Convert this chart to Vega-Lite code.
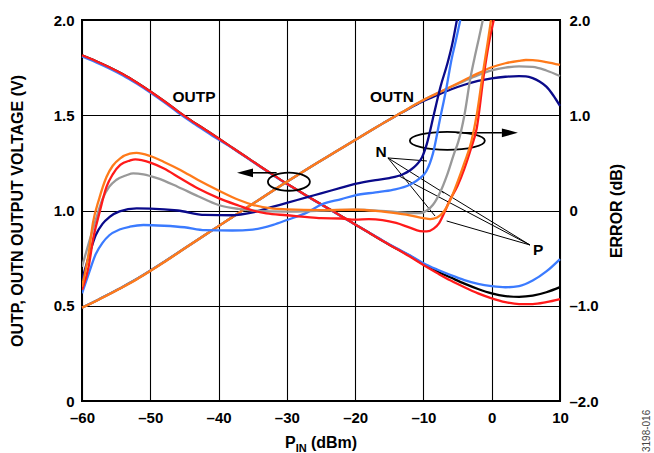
{
  "$schema": "https://vega.github.io/schema/vega-lite/v6.json",
  "width": 478,
  "height": 381,
  "autosize": {"type": "none"},
  "padding": {"left": 82, "top": 20, "right": 94, "bottom": 52},
  "config": {
    "font": "Liberation Sans",
    "view": {"stroke": "#000", "strokeWidth": 2},
    "axis": {
      "labelFont": "Liberation Sans", "labelFontWeight": "bold", "labelFontSize": 15, "labelColor": "#000",
      "titleFont": "Liberation Sans", "titleFontWeight": "bold", "titleFontSize": 16, "titleColor": "#000",
      "ticks": false, "domain": false, "gridColor": "#000", "gridWidth": 1.1, "gridOpacity": 1,
      "labelFlush": false, "labelOverlap": false
    }
  },
  "datasets": {
    "volt": [
      {"s":"OUTP a","x":-60,"v":1.815},{"s":"OUTP a","x":-58,"v":1.785},{"s":"OUTP a","x":-56,"v":1.752},{"s":"OUTP a","x":-54,"v":1.715},{"s":"OUTP a","x":-52,"v":1.672},{"s":"OUTP a","x":-50,"v":1.625},{"s":"OUTP a","x":-48,"v":1.575},{"s":"OUTP a","x":-46,"v":1.522},{"s":"OUTP a","x":-44,"v":1.472},{"s":"OUTP a","x":-42,"v":1.425},{"s":"OUTP a","x":-40,"v":1.378},{"s":"OUTP a","x":-38,"v":1.33},{"s":"OUTP a","x":-36,"v":1.282},{"s":"OUTP a","x":-34,"v":1.234},{"s":"OUTP a","x":-32,"v":1.187},{"s":"OUTP a","x":-30,"v":1.14},{"s":"OUTP a","x":-28,"v":1.097},{"s":"OUTP a","x":-26,"v":1.054},{"s":"OUTP a","x":-24,"v":1.012},{"s":"OUTP a","x":-22,"v":0.97},{"s":"OUTP a","x":-20,"v":0.927},{"s":"OUTP a","x":-18,"v":0.884},{"s":"OUTP a","x":-16,"v":0.841},{"s":"OUTP a","x":-14,"v":0.8},{"s":"OUTP a","x":-12,"v":0.762},{"s":"OUTP a","x":-10,"v":0.718},{"s":"OUTP a","x":-8,"v":0.68},{"s":"OUTP a","x":-6,"v":0.648},{"s":"OUTP a","x":-4,"v":0.616},{"s":"OUTP a","x":-2,"v":0.588},{"s":"OUTP a","x":0,"v":0.565},{"s":"OUTP a","x":2,"v":0.551},{"s":"OUTP a","x":4,"v":0.547},{"s":"OUTP a","x":6,"v":0.553},{"s":"OUTP a","x":8,"v":0.571},{"s":"OUTP a","x":10,"v":0.598},

      {"s":"OUTP b","x":-60,"v":1.809},{"s":"OUTP b","x":-58,"v":1.779},{"s":"OUTP b","x":-56,"v":1.746},{"s":"OUTP b","x":-54,"v":1.709},{"s":"OUTP b","x":-52,"v":1.666},{"s":"OUTP b","x":-50,"v":1.619},{"s":"OUTP b","x":-48,"v":1.569},{"s":"OUTP b","x":-46,"v":1.516},{"s":"OUTP b","x":-44,"v":1.466},{"s":"OUTP b","x":-42,"v":1.419},{"s":"OUTP b","x":-40,"v":1.372},{"s":"OUTP b","x":-38,"v":1.328},{"s":"OUTP b","x":-36,"v":1.28},{"s":"OUTP b","x":-34,"v":1.232},{"s":"OUTP b","x":-32,"v":1.185},{"s":"OUTP b","x":-30,"v":1.139},{"s":"OUTP b","x":-28,"v":1.096},{"s":"OUTP b","x":-26,"v":1.053},{"s":"OUTP b","x":-24,"v":1.011},{"s":"OUTP b","x":-22,"v":0.969},{"s":"OUTP b","x":-20,"v":0.927},{"s":"OUTP b","x":-18,"v":0.885},{"s":"OUTP b","x":-16,"v":0.843},{"s":"OUTP b","x":-14,"v":0.803},{"s":"OUTP b","x":-12,"v":0.765},{"s":"OUTP b","x":-10,"v":0.723},{"s":"OUTP b","x":-8,"v":0.69},{"s":"OUTP b","x":-6,"v":0.661},{"s":"OUTP b","x":-4,"v":0.635},{"s":"OUTP b","x":-2,"v":0.615},{"s":"OUTP b","x":0,"v":0.603},{"s":"OUTP b","x":2,"v":0.597},{"s":"OUTP b","x":4,"v":0.603},{"s":"OUTP b","x":6,"v":0.632},{"s":"OUTP b","x":8,"v":0.68},{"s":"OUTP b","x":10,"v":0.745},

      {"s":"OUTP c","x":-60,"v":1.815},{"s":"OUTP c","x":-58,"v":1.785},{"s":"OUTP c","x":-56,"v":1.752},{"s":"OUTP c","x":-54,"v":1.715},{"s":"OUTP c","x":-52,"v":1.672},{"s":"OUTP c","x":-50,"v":1.625},{"s":"OUTP c","x":-48,"v":1.575},{"s":"OUTP c","x":-46,"v":1.522},{"s":"OUTP c","x":-44,"v":1.472},{"s":"OUTP c","x":-42,"v":1.425},{"s":"OUTP c","x":-40,"v":1.378},{"s":"OUTP c","x":-38,"v":1.33},{"s":"OUTP c","x":-36,"v":1.282},{"s":"OUTP c","x":-34,"v":1.234},{"s":"OUTP c","x":-32,"v":1.187},{"s":"OUTP c","x":-30,"v":1.14},{"s":"OUTP c","x":-28,"v":1.097},{"s":"OUTP c","x":-26,"v":1.054},{"s":"OUTP c","x":-24,"v":1.012},{"s":"OUTP c","x":-22,"v":0.97},{"s":"OUTP c","x":-20,"v":0.927},{"s":"OUTP c","x":-18,"v":0.884},{"s":"OUTP c","x":-16,"v":0.841},{"s":"OUTP c","x":-14,"v":0.8},{"s":"OUTP c","x":-12,"v":0.758},{"s":"OUTP c","x":-10,"v":0.714},{"s":"OUTP c","x":-8,"v":0.672},{"s":"OUTP c","x":-6,"v":0.632},{"s":"OUTP c","x":-4,"v":0.597},{"s":"OUTP c","x":-2,"v":0.565},{"s":"OUTP c","x":0,"v":0.539},{"s":"OUTP c","x":2,"v":0.519},{"s":"OUTP c","x":4,"v":0.509},{"s":"OUTP c","x":6,"v":0.509},{"s":"OUTP c","x":8,"v":0.519},{"s":"OUTP c","x":10,"v":0.535},

      {"s":"OUTN a","x":-60,"v":0.49},{"s":"OUTN a","x":-58,"v":0.525},{"s":"OUTN a","x":-56,"v":0.562},{"s":"OUTN a","x":-54,"v":0.6},{"s":"OUTN a","x":-52,"v":0.64},{"s":"OUTN a","x":-50,"v":0.684},{"s":"OUTN a","x":-48,"v":0.73},{"s":"OUTN a","x":-46,"v":0.777},{"s":"OUTN a","x":-44,"v":0.824},{"s":"OUTN a","x":-42,"v":0.871},{"s":"OUTN a","x":-40,"v":0.918},{"s":"OUTN a","x":-38,"v":0.965},{"s":"OUTN a","x":-36,"v":1.012},{"s":"OUTN a","x":-34,"v":1.058},{"s":"OUTN a","x":-32,"v":1.105},{"s":"OUTN a","x":-30,"v":1.151},{"s":"OUTN a","x":-28,"v":1.196},{"s":"OUTN a","x":-26,"v":1.24},{"s":"OUTN a","x":-24,"v":1.284},{"s":"OUTN a","x":-22,"v":1.327},{"s":"OUTN a","x":-20,"v":1.37},{"s":"OUTN a","x":-18,"v":1.413},{"s":"OUTN a","x":-16,"v":1.456},{"s":"OUTN a","x":-14,"v":1.498},{"s":"OUTN a","x":-12,"v":1.537},{"s":"OUTN a","x":-10,"v":1.575},{"s":"OUTN a","x":-8,"v":1.605},{"s":"OUTN a","x":-6,"v":1.635},{"s":"OUTN a","x":-4,"v":1.66},{"s":"OUTN a","x":-2,"v":1.68},{"s":"OUTN a","x":0,"v":1.694},{"s":"OUTN a","x":2,"v":1.702},{"s":"OUTN a","x":4,"v":1.705},{"s":"OUTN a","x":5,"v":1.704},{"s":"OUTN a","x":6,"v":1.695},{"s":"OUTN a","x":7,"v":1.677},{"s":"OUTN a","x":8,"v":1.65},{"s":"OUTN a","x":9,"v":1.605},{"s":"OUTN a","x":10,"v":1.549},

      {"s":"OUTN b","x":-60,"v":0.49},{"s":"OUTN b","x":-58,"v":0.525},{"s":"OUTN b","x":-56,"v":0.562},{"s":"OUTN b","x":-54,"v":0.6},{"s":"OUTN b","x":-52,"v":0.64},{"s":"OUTN b","x":-50,"v":0.684},{"s":"OUTN b","x":-48,"v":0.73},{"s":"OUTN b","x":-46,"v":0.777},{"s":"OUTN b","x":-44,"v":0.824},{"s":"OUTN b","x":-42,"v":0.871},{"s":"OUTN b","x":-40,"v":0.918},{"s":"OUTN b","x":-38,"v":0.965},{"s":"OUTN b","x":-36,"v":1.012},{"s":"OUTN b","x":-34,"v":1.058},{"s":"OUTN b","x":-32,"v":1.105},{"s":"OUTN b","x":-30,"v":1.151},{"s":"OUTN b","x":-28,"v":1.196},{"s":"OUTN b","x":-26,"v":1.24},{"s":"OUTN b","x":-24,"v":1.284},{"s":"OUTN b","x":-22,"v":1.327},{"s":"OUTN b","x":-20,"v":1.37},{"s":"OUTN b","x":-18,"v":1.413},{"s":"OUTN b","x":-16,"v":1.456},{"s":"OUTN b","x":-14,"v":1.498},{"s":"OUTN b","x":-12,"v":1.54},{"s":"OUTN b","x":-10,"v":1.58},{"s":"OUTN b","x":-8,"v":1.615},{"s":"OUTN b","x":-6,"v":1.648},{"s":"OUTN b","x":-4,"v":1.68},{"s":"OUTN b","x":-2,"v":1.71},{"s":"OUTN b","x":0,"v":1.735},{"s":"OUTN b","x":2,"v":1.75},{"s":"OUTN b","x":4,"v":1.757},{"s":"OUTN b","x":6,"v":1.754},{"s":"OUTN b","x":8,"v":1.735},{"s":"OUTN b","x":10,"v":1.706},

      {"s":"OUTN c","x":-60,"v":0.49},{"s":"OUTN c","x":-58,"v":0.524},{"s":"OUTN c","x":-56,"v":0.56},{"s":"OUTN c","x":-54,"v":0.598},{"s":"OUTN c","x":-52,"v":0.638},{"s":"OUTN c","x":-50,"v":0.682},{"s":"OUTN c","x":-48,"v":0.728},{"s":"OUTN c","x":-46,"v":0.776},{"s":"OUTN c","x":-44,"v":0.824},{"s":"OUTN c","x":-42,"v":0.871},{"s":"OUTN c","x":-40,"v":0.918},{"s":"OUTN c","x":-38,"v":0.965},{"s":"OUTN c","x":-36,"v":1.012},{"s":"OUTN c","x":-34,"v":1.058},{"s":"OUTN c","x":-32,"v":1.105},{"s":"OUTN c","x":-30,"v":1.151},{"s":"OUTN c","x":-28,"v":1.196},{"s":"OUTN c","x":-26,"v":1.24},{"s":"OUTN c","x":-24,"v":1.284},{"s":"OUTN c","x":-22,"v":1.327},{"s":"OUTN c","x":-20,"v":1.37},{"s":"OUTN c","x":-18,"v":1.413},{"s":"OUTN c","x":-16,"v":1.456},{"s":"OUTN c","x":-14,"v":1.498},{"s":"OUTN c","x":-12,"v":1.54},{"s":"OUTN c","x":-10,"v":1.58},{"s":"OUTN c","x":-8,"v":1.615},{"s":"OUTN c","x":-6,"v":1.65},{"s":"OUTN c","x":-4,"v":1.685},{"s":"OUTN c","x":-2,"v":1.72},{"s":"OUTN c","x":0,"v":1.752},{"s":"OUTN c","x":2,"v":1.773},{"s":"OUTN c","x":4,"v":1.786},{"s":"OUTN c","x":5,"v":1.79},{"s":"OUTN c","x":6,"v":1.789},{"s":"OUTN c","x":8,"v":1.779},{"s":"OUTN c","x":10,"v":1.764}
    ],
    "err": [
      {"s":"err a","x":-60,"e":-0.73},{"s":"err a","x":-59,"e":-0.48},{"s":"err a","x":-58,"e":-0.26},{"s":"err a","x":-57,"e":-0.14},{"s":"err a","x":-56,"e":-0.07},{"s":"err a","x":-54.5,"e":-0.01},{"s":"err a","x":-52,"e":0.022},{"s":"err a","x":-50,"e":0.02},{"s":"err a","x":-46,"e":0.0},{"s":"err a","x":-42,"e":-0.046},{"s":"err a","x":-38,"e":-0.05},{"s":"err a","x":-35,"e":-0.02},{"s":"err a","x":-32,"e":0.04},{"s":"err a","x":-30,"e":0.08},{"s":"err a","x":-27,"e":0.14},{"s":"err a","x":-25,"e":0.18},{"s":"err a","x":-22,"e":0.24},{"s":"err a","x":-20,"e":0.28},{"s":"err a","x":-17,"e":0.32},{"s":"err a","x":-15,"e":0.34},{"s":"err a","x":-13,"e":0.38},{"s":"err a","x":-12,"e":0.42},{"s":"err a","x":-11,"e":0.48},{"s":"err a","x":-10.2,"e":0.56},{"s":"err a","x":-9.5,"e":0.7},{"s":"err a","x":-8.5,"e":1.0},{"s":"err a","x":-7.5,"e":1.3},{"s":"err a","x":-6.5,"e":1.54},{"s":"err a","x":-5.8,"e":1.74},{"s":"err a","x":-5.1,"e":2.0},

      {"s":"err b","x":-60,"e":-0.87},{"s":"err b","x":-59,"e":-0.66},{"s":"err b","x":-58,"e":-0.46},{"s":"err b","x":-57,"e":-0.34},{"s":"err b","x":-56,"e":-0.26},{"s":"err b","x":-54.5,"e":-0.2},{"s":"err b","x":-53,"e":-0.17},{"s":"err b","x":-51,"e":-0.152},{"s":"err b","x":-48,"e":-0.16},{"s":"err b","x":-45,"e":-0.176},{"s":"err b","x":-42,"e":-0.206},{"s":"err b","x":-38,"e":-0.21},{"s":"err b","x":-35,"e":-0.2},{"s":"err b","x":-32,"e":-0.15},{"s":"err b","x":-30,"e":-0.1},{"s":"err b","x":-27,"e":-0.02},{"s":"err b","x":-25,"e":0.06},{"s":"err b","x":-22,"e":0.12},{"s":"err b","x":-20,"e":0.16},{"s":"err b","x":-17,"e":0.19},{"s":"err b","x":-14.5,"e":0.216},{"s":"err b","x":-12,"e":0.27},{"s":"err b","x":-10.5,"e":0.34},{"s":"err b","x":-9.6,"e":0.41},{"s":"err b","x":-8.6,"e":0.6},{"s":"err b","x":-7.6,"e":0.95},{"s":"err b","x":-6.6,"e":1.3},{"s":"err b","x":-5.9,"e":1.58},{"s":"err b","x":-5.2,"e":1.8},{"s":"err b","x":-4.6,"e":2.0},

      {"s":"err c","x":-60,"e":-0.59},{"s":"err c","x":-59,"e":-0.34},{"s":"err c","x":-58,"e":-0.1},{"s":"err c","x":-57,"e":0.12},{"s":"err c","x":-56,"e":0.25},{"s":"err c","x":-55,"e":0.32},{"s":"err c","x":-53.5,"e":0.37},{"s":"err c","x":-52.5,"e":0.39},{"s":"err c","x":-51,"e":0.38},{"s":"err c","x":-49,"e":0.34},{"s":"err c","x":-46,"e":0.25},{"s":"err c","x":-43,"e":0.15},{"s":"err c","x":-40,"e":0.058},{"s":"err c","x":-37,"e":0.016},{"s":"err c","x":-35,"e":0.0},{"s":"err c","x":-30,"e":-0.012},{"s":"err c","x":-25,"e":-0.002},{"s":"err c","x":-20,"e":0.01},{"s":"err c","x":-15,"e":-0.01},{"s":"err c","x":-12,"e":-0.026},{"s":"err c","x":-10.5,"e":-0.028},{"s":"err c","x":-9.5,"e":0.0},{"s":"err c","x":-8.6,"e":0.06},{"s":"err c","x":-7.5,"e":0.2},{"s":"err c","x":-6.5,"e":0.38},{"s":"err c","x":-5.5,"e":0.6},{"s":"err c","x":-4.9,"e":0.72},{"s":"err c","x":-4,"e":1.0},{"s":"err c","x":-3.1,"e":1.4},{"s":"err c","x":-2.4,"e":1.64},{"s":"err c","x":-1.9,"e":1.8},{"s":"err c","x":-1.3,"e":2.0},

      {"s":"err d","x":-60,"e":-0.834},{"s":"err d","x":-59,"e":-0.58},{"s":"err d","x":-58.4,"e":-0.31},{"s":"err d","x":-57.5,"e":-0.04},{"s":"err d","x":-56.4,"e":0.25},{"s":"err d","x":-55.5,"e":0.38},{"s":"err d","x":-54.4,"e":0.478},{"s":"err d","x":-53,"e":0.524},{"s":"err d","x":-52.2,"e":0.536},{"s":"err d","x":-50,"e":0.502},{"s":"err d","x":-48,"e":0.44},{"s":"err d","x":-45.6,"e":0.338},{"s":"err d","x":-43,"e":0.23},{"s":"err d","x":-40,"e":0.13},{"s":"err d","x":-37,"e":0.05},{"s":"err d","x":-35,"e":0.0},{"s":"err d","x":-33,"e":-0.03},{"s":"err d","x":-30,"e":-0.05},{"s":"err d","x":-27,"e":-0.07},{"s":"err d","x":-25,"e":-0.08},{"s":"err d","x":-22,"e":-0.084},{"s":"err d","x":-20,"e":-0.096},{"s":"err d","x":-18,"e":-0.09},{"s":"err d","x":-16,"e":-0.1},{"s":"err d","x":-14,"e":-0.13},{"s":"err d","x":-12,"e":-0.18},{"s":"err d","x":-10.5,"e":-0.216},{"s":"err d","x":-9.5,"e":-0.22},{"s":"err d","x":-8.5,"e":-0.19},{"s":"err d","x":-7.7,"e":-0.132},{"s":"err d","x":-6.8,"e":0.0},{"s":"err d","x":-6.2,"e":0.1},{"s":"err d","x":-5,"e":0.26},{"s":"err d","x":-4,"e":0.44},{"s":"err d","x":-3,"e":0.66},{"s":"err d","x":-2.2,"e":0.86},{"s":"err d","x":-1.2,"e":1.4},{"s":"err d","x":-0.4,"e":1.76},{"s":"err d","x":0.3,"e":2.0},

      {"s":"err e","x":-60,"e":-0.8},{"s":"err e","x":-59,"e":-0.44},{"s":"err e","x":-58.4,"e":-0.13},{"s":"err e","x":-57.5,"e":0.12},{"s":"err e","x":-56.4,"e":0.354},{"s":"err e","x":-55.5,"e":0.47},{"s":"err e","x":-54.4,"e":0.548},{"s":"err e","x":-53,"e":0.596},{"s":"err e","x":-52,"e":0.606},{"s":"err e","x":-50,"e":0.572},{"s":"err e","x":-48,"e":0.51},{"s":"err e","x":-45.6,"e":0.426},{"s":"err e","x":-43,"e":0.32},{"s":"err e","x":-40,"e":0.21},{"s":"err e","x":-37,"e":0.11},{"s":"err e","x":-35,"e":0.06},{"s":"err e","x":-32,"e":0.02},{"s":"err e","x":-30,"e":0.012},{"s":"err e","x":-25,"e":0.004},{"s":"err e","x":-20,"e":0.008},{"s":"err e","x":-17,"e":-0.004},{"s":"err e","x":-15,"e":-0.02},{"s":"err e","x":-12,"e":-0.05},{"s":"err e","x":-10,"e":-0.08},{"s":"err e","x":-9,"e":-0.09},{"s":"err e","x":-8,"e":-0.074},{"s":"err e","x":-7,"e":-0.01},{"s":"err e","x":-6,"e":0.12},{"s":"err e","x":-5,"e":0.3},{"s":"err e","x":-4,"e":0.5},{"s":"err e","x":-3,"e":0.72},{"s":"err e","x":-2.2,"e":1.0},{"s":"err e","x":-1.3,"e":1.44},{"s":"err e","x":-0.6,"e":1.76},{"s":"err e","x":-0.1,"e":2.0}
    ],
    "leaders": [
      {"x":-15.2,"v":1.276,"x2":-9.5,"v2":1.26},
      {"x":-15.2,"v":1.276,"x2":-7.0,"v2":1.092},
      {"x":-15.2,"v":1.276,"x2":-8.3,"v2":0.971},
      {"x":5.6,"v":0.819,"x2":-13.5,"v2":1.18},
      {"x":5.6,"v":0.819,"x2":-7.6,"v2":1.108},
      {"x":5.6,"v":0.819,"x2":-6.6,"v2":0.945}
    ],
    "shafts": [
      {"x":-31.5,"v":1.198,"x2":-34.97,"v2":1.198},
      {"x":-5.14,"v":1.408,"x2":1.49,"v2":1.408}
    ],
    "headLeft": [{"x":-36.13,"v":1.198}],
    "headRight": [{"x":2.66,"v":1.408}],
    "ellipseSmall": [{"x":-29.7,"v":1.151}],
    "ellipseWide": [{"x":-6.5,"v":1.366}],
    "notes": [
      {"t":"OUTP","x":-43.6,"v":1.596},
      {"t":"OUTN","x":-14.6,"v":1.596},
      {"t":"N","x":-16.2,"v":1.307},
      {"t":"P","x":6.8,"v":0.793}
    ],
    "xtitle": [
      {"t":"P","x":-30.28,"v":-0.247},
      {"t":"(dBm)","x":-26.47,"v":-0.247}
    ],
    "xsub": [{"t":"IN","x":-28.7,"v":-0.268}],
    "figid": [{"t":"3198-016","x":22.68,"v":-0.157}]
  },
  "layer": [
    {
      "layer": [
        {
          "data": {"name": "volt"},
          "mark": {"type": "line", "strokeWidth": 2.3, "interpolate": "monotone"},
          "encoding": {
            "x": {"field": "x", "type": "quantitative", "scale": {"domain": [-60, 10], "nice": false, "zero": false},
                  "axis": {"values": [-60,-50,-40,-30,-20,-10,0,10], "grid": true, "title": null, "labelPadding": 9,
                           "labelExpr": "datum.value < 0 ? '–' + format(-datum.value, 'd') : format(datum.value, 'd')"}},
            "y": {"field": "v", "type": "quantitative", "scale": {"domain": [0, 2], "nice": false, "zero": false},
                  "axis": {"orient": "left", "values": [0, 0.5, 1, 1.5, 2], "grid": true, "title": "OUTP, OUTN OUTPUT VOLTAGE (V)",
                           "labelPadding": 8, "titlePadding": 28,
                           "labelExpr": "datum.value == 0 ? '0' : format(datum.value, '.1f')"}},
            "color": {"field": "s", "type": "nominal", "legend": null,
                      "scale": {"domain": ["OUTP a","OUTP b","OUTP c","OUTN a","OUTN b","OUTN c"],
                                "range": ["#000000","#3b7bff","#ff1a1a","#0a0a8a","#999999","#ff7a1a"]}}
          }
        },
        {
          "data": {"name": "leaders"},
          "mark": {"type": "rule", "color": "#000", "strokeWidth": 1},
          "encoding": {
            "x": {"field": "x", "type": "quantitative", "scale": {"domain": [-60, 10], "nice": false, "zero": false}, "title": null},
            "x2": {"field": "x2"},
            "y": {"field": "v", "type": "quantitative", "scale": {"domain": [0, 2], "nice": false, "zero": false}, "title": "OUTP, OUTN OUTPUT VOLTAGE (V)"},
            "y2": {"field": "v2"}
          }
        },
        {
          "data": {"name": "shafts"},
          "mark": {"type": "rule", "color": "#000", "strokeWidth": 1.6},
          "encoding": {
            "x": {"field": "x", "type": "quantitative", "scale": {"domain": [-60, 10], "nice": false, "zero": false}, "title": null},
            "x2": {"field": "x2"},
            "y": {"field": "v", "type": "quantitative", "scale": {"domain": [0, 2], "nice": false, "zero": false}, "title": "OUTP, OUTN OUTPUT VOLTAGE (V)"},
            "y2": {"field": "v2"}
          }
        },
        {
          "data": {"name": "headLeft"},
          "mark": {"type": "point", "shape": "M-1,0 L1,-0.55 L1,0.55 Z", "size": 256, "filled": true, "color": "#000", "opacity": 1},
          "encoding": {
            "x": {"field": "x", "type": "quantitative", "scale": {"domain": [-60, 10], "nice": false, "zero": false}, "title": null},
            "y": {"field": "v", "type": "quantitative", "scale": {"domain": [0, 2], "nice": false, "zero": false}, "title": "OUTP, OUTN OUTPUT VOLTAGE (V)"}
          }
        },
        {
          "data": {"name": "headRight"},
          "mark": {"type": "point", "shape": "M1,0 L-1,-0.55 L-1,0.55 Z", "size": 256, "filled": true, "color": "#000", "opacity": 1},
          "encoding": {
            "x": {"field": "x", "type": "quantitative", "scale": {"domain": [-60, 10], "nice": false, "zero": false}, "title": null},
            "y": {"field": "v", "type": "quantitative", "scale": {"domain": [0, 2], "nice": false, "zero": false}, "title": "OUTP, OUTN OUTPUT VOLTAGE (V)"}
          }
        },
        {
          "data": {"name": "ellipseSmall"},
          "mark": {"type": "point", "shape": "M1,0 C1,0.2375 0.5523,0.43 0,0.43 C-0.5523,0.43 -1,0.2375 -1,0 C-1,-0.2375 -0.5523,-0.43 0,-0.43 C0.5523,-0.43 1,-0.2375 1,0 Z", "size": 1764, "filled": false, "color": "#000", "strokeWidth": 1.8, "opacity": 1},
          "encoding": {
            "x": {"field": "x", "type": "quantitative", "scale": {"domain": [-60, 10], "nice": false, "zero": false}, "title": null},
            "y": {"field": "v", "type": "quantitative", "scale": {"domain": [0, 2], "nice": false, "zero": false}, "title": "OUTP, OUTN OUTPUT VOLTAGE (V)"}
          }
        },
        {
          "data": {"name": "ellipseWide"},
          "mark": {"type": "point", "shape": "M1,0 C1,0.1326 0.5523,0.24 0,0.24 C-0.5523,0.24 -1,0.1326 -1,0 C-1,-0.1326 -0.5523,-0.24 0,-0.24 C0.5523,-0.24 1,-0.1326 1,0 Z", "size": 5625, "filled": false, "color": "#000", "strokeWidth": 1.8, "opacity": 1},
          "encoding": {
            "x": {"field": "x", "type": "quantitative", "scale": {"domain": [-60, 10], "nice": false, "zero": false}, "title": null},
            "y": {"field": "v", "type": "quantitative", "scale": {"domain": [0, 2], "nice": false, "zero": false}, "title": "OUTP, OUTN OUTPUT VOLTAGE (V)"}
          }
        },
        {
          "data": {"name": "notes"},
          "mark": {"type": "text", "font": "Liberation Sans", "fontWeight": "bold", "fontSize": 15.5, "color": "#000", "align": "center", "baseline": "middle"},
          "encoding": {
            "x": {"field": "x", "type": "quantitative", "scale": {"domain": [-60, 10], "nice": false, "zero": false}, "title": null},
            "y": {"field": "v", "type": "quantitative", "scale": {"domain": [0, 2], "nice": false, "zero": false}, "title": "OUTP, OUTN OUTPUT VOLTAGE (V)"},
            "text": {"field": "t"}
          }
        },
        {
          "data": {"name": "xtitle"},
          "mark": {"type": "text", "font": "Liberation Sans", "fontWeight": "bold", "fontSize": 16, "color": "#000", "align": "left", "baseline": "alphabetic"},
          "encoding": {
            "x": {"field": "x", "type": "quantitative", "scale": {"domain": [-60, 10], "nice": false, "zero": false}, "title": null},
            "y": {"field": "v", "type": "quantitative", "scale": {"domain": [0, 2], "nice": false, "zero": false}, "title": "OUTP, OUTN OUTPUT VOLTAGE (V)"},
            "text": {"field": "t"}
          }
        },
        {
          "data": {"name": "xsub"},
          "mark": {"type": "text", "font": "Liberation Sans", "fontWeight": "bold", "fontSize": 11, "color": "#000", "align": "left", "baseline": "alphabetic"},
          "encoding": {
            "x": {"field": "x", "type": "quantitative", "scale": {"domain": [-60, 10], "nice": false, "zero": false}, "title": null},
            "y": {"field": "v", "type": "quantitative", "scale": {"domain": [0, 2], "nice": false, "zero": false}, "title": "OUTP, OUTN OUTPUT VOLTAGE (V)"},
            "text": {"field": "t"}
          }
        },
        {
          "data": {"name": "figid"},
          "mark": {"type": "text", "font": "Liberation Sans", "fontSize": 10, "color": "#444", "align": "center", "baseline": "middle", "angle": 270},
          "encoding": {
            "x": {"field": "x", "type": "quantitative", "scale": {"domain": [-60, 10], "nice": false, "zero": false}, "title": null},
            "y": {"field": "v", "type": "quantitative", "scale": {"domain": [0, 2], "nice": false, "zero": false}, "title": "OUTP, OUTN OUTPUT VOLTAGE (V)"},
            "text": {"field": "t"}
          }
        }
      ]
    },
    {
      "data": {"name": "err"},
      "mark": {"type": "line", "strokeWidth": 2.3, "interpolate": "monotone", "clip": true},
      "encoding": {
        "x": {"field": "x", "type": "quantitative", "scale": {"domain": [-60, 10], "nice": false, "zero": false}, "title": null},
        "y": {"field": "e", "type": "quantitative", "scale": {"domain": [-2, 2], "nice": false, "zero": false},
              "axis": {"orient": "right", "values": [-2, -1, 0, 1, 2], "grid": false, "title": "ERROR (dB)", "titleAngle": 270,
                       "labelPadding": 9, "titlePadding": 26,
                       "labelExpr": "datum.value == 0 ? '0' : (datum.value < 0 ? '–' : '') + format(abs(datum.value), '.1f')"}},
        "color": {"field": "s", "type": "nominal", "legend": null,
                  "scale": {"domain": ["err a","err b","err c","err d","err e"],
                            "range": ["#0a0a8a","#3b7bff","#999999","#ff1a1a","#ff7a1a"]}}
      }
    }
  ],
  "resolve": {"scale": {"y": "independent", "color": "independent"}}
}
